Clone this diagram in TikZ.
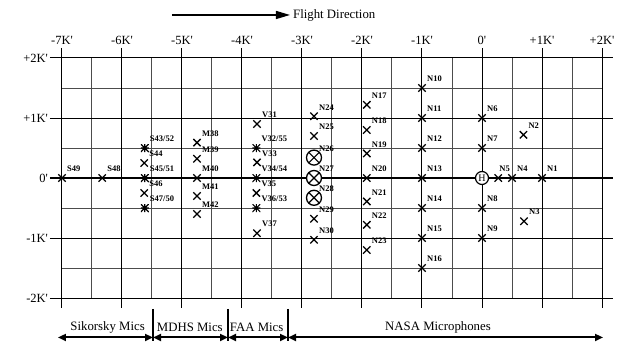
\documentclass[tikz,border=0pt]{standalone}
\usepackage{fontspec}
\setmainfont{Liberation Serif}
\usetikzlibrary{arrows.meta,shapes.misc}
\newcommand\kq{\textquotesingle}
\begin{document}
\begin{tikzpicture}[x=60pt,y=60pt,
  halfline/.style={draw=black!70, line width=1pt},
  fullline/.style={draw=black, line width=1pt},
  zeroline/.style={draw=black, line width=2pt},
  axl/.style={font=\fontsize{12.5}{14}\selectfont, inner sep=0pt},
  grp/.style={font=\fontsize{12.8}{14}\selectfont, inner sep=0pt},
  lbl/.style={font=\fontsize{8.5}{9}\selectfont\bfseries, inner sep=0pt, anchor=west},
  xm/.style={draw, cross out, minimum size=6pt, inner sep=0pt, line width=1.3pt},
  ast/.style={rectangle, minimum size=8pt, inner sep=0pt,
    path picture={\draw[line width=1.2pt]
      (path picture bounding box.north west)--(path picture bounding box.south east)
      (path picture bounding box.south west)--(path picture bounding box.north east)
      (path picture bounding box.north)--(path picture bounding box.south)
      (path picture bounding box.west)--(path picture bounding box.east);}},
  ox/.style={circle, draw, fill=white, minimum size=15pt, inner sep=0pt, line width=1.3pt,
    path picture={\draw[line width=1.2pt]
      (path picture bounding box.north west)--(path picture bounding box.south east)
      (path picture bounding box.south west)--(path picture bounding box.north east);}},
  hub/.style={circle, draw, fill=white, minimum size=13pt, inner sep=0pt, line width=1.2pt,
    font=\fontsize{10}{10}\selectfont},
  grparrow/.style={line width=2pt, {Triangle[length=8pt,width=7pt]}-{Triangle[length=8pt,width=7pt]}},
  sep/.style={line width=2pt}
]
\useasboundingbox (-8.0333,-2.7167) rectangle (2.4333,2.9667);

% grid: half-step lines
\foreach \x in {-6.5,-5.5,...,1.5} \draw[halfline] (\x,2) -- (\x,-2);
\foreach \y in {1.5,0.5,-0.5,-1.5} \draw[halfline] (-7,\y) -- (2,\y);
% grid: integer lines
\foreach \x in {-7,...,2} \draw[fullline] (\x,2.167) -- (\x,-2.167);
\foreach \y in {2,1,-1,-2} \draw[fullline] (-7.2,\y) -- (2.183,\y);
\draw[zeroline] (-7.2,0) -- (2.183,0);

% axis labels
\foreach \x/\t in {-7/-7K\kq,-6/-6K\kq,-5/-5K\kq,-4/-4K\kq,-3/-3K\kq,-2/-2K\kq,-1/-1K\kq,0/0\kq,1/+1K\kq,2/+2K\kq}
  \node[axl] (tx\x) at (\x,2.3) {\t};
\foreach \y/\t in {2/+2K\kq,1/+1K\kq,0/0\kq,-1/-1K\kq,-2/-2K\kq}
  \node[axl, anchor=east] (ty\y) at (-7.23,\y) {\t};

% flight direction
\coordinate (fa) at (-5.167,2.717);
\node[grp, anchor=west] (fd) at (-3.15,2.717) {Flight Direction};
\draw[line width=1.3pt, -{Triangle[length=14pt,width=8pt]}, shorten >=3pt] (fa) -- (fd.west);

% microphones
\newcommand\mic[4]{\node[#1] (#2) at (#3) {};
  \node[lbl] (l#2) at ([shift={(5pt,9pt)}]#2) {#4};}
\mic{xm}{S49}{-7,0}{S49}
\mic{xm}{S48}{-6.33,0}{S48}
\mic{ast}{S43}{-5.62,0.5}{S43/52}
\mic{xm}{S44}{-5.63,0.25}{S44}
\mic{ast}{S45}{-5.62,0}{S45/51}
\mic{xm}{S46}{-5.63,-0.25}{S46}
\mic{ast}{S47}{-5.62,-0.5}{S47/50}
\mic{xm}{M38}{-4.75,0.59}{M38}
\mic{xm}{M39}{-4.75,0.32}{M39}
\mic{xm}{M40}{-4.75,0}{M40}
\mic{xm}{M41}{-4.75,-0.3}{M41}
\mic{xm}{M42}{-4.75,-0.6}{M42}
\mic{xm}{V31}{-3.75,0.9}{V31}
\mic{ast}{V32}{-3.76,0.5}{V32/55}
\mic{xm}{V33}{-3.75,0.26}{V33}
\mic{ast}{V34}{-3.76,0}{V34/54}
\mic{xm}{V35}{-3.76,-0.25}{V35}
\mic{ast}{V36}{-3.76,-0.5}{V36/53}
\mic{xm}{V37}{-3.75,-0.92}{V37}
\mic{xm}{N24}{-2.8,1.03}{N24}
\mic{xm}{N25}{-2.8,0.7}{N25}
\mic{ox}{N26}{-2.8,0.34}{N26}
\mic{ox}{N27}{-2.8,0}{N27}
\mic{ox}{N28}{-2.8,-0.33}{N28}
\mic{xm}{N29}{-2.8,-0.68}{N29}
\mic{xm}{N30}{-2.8,-1.03}{N30}
\mic{xm}{N17}{-1.92,1.22}{N17}
\mic{xm}{N18}{-1.92,0.8}{N18}
\mic{xm}{N19}{-1.92,0.41}{N19}
\mic{xm}{N20}{-1.92,0}{N20}
\mic{xm}{N21}{-1.92,-0.39}{N21}
\mic{xm}{N22}{-1.92,-0.78}{N22}
\mic{xm}{N23}{-1.92,-1.2}{N23}
\mic{xm}{N10}{-1,1.5}{N10}
\mic{xm}{N11}{-1,1}{N11}
\mic{xm}{N12}{-1,0.5}{N12}
\mic{xm}{N13}{-1,0}{N13}
\mic{xm}{N14}{-1,-0.5}{N14}
\mic{xm}{N15}{-1,-1}{N15}
\mic{xm}{N16}{-1,-1.5}{N16}
\mic{xm}{N6}{0,1}{N6}
\mic{xm}{N7}{0,0.5}{N7}
\mic{xm}{N8}{0,-0.5}{N8}
\mic{xm}{N9}{0,-1}{N9}
\node[xm] (N5) at (0.27,0) {};
\node[lbl] (lN5) at ([shift={(1pt,9pt)}]N5) {N5};
\mic{xm}{N4}{0.5,0}{N4}
\mic{xm}{N1}{1,0}{N1}
\mic{xm}{N2}{0.69,0.72}{N2}
\mic{xm}{N3}{0.7,-0.72}{N3}
\node[hub] (H) at (0,0) {H};

% groups at bottom
\coordinate (b0) at (-7.067,-2.658);
\coordinate (b1) at (-5.483,-2.658);
\coordinate (b2) at (-4.233,-2.658);
\coordinate (b3) at (-3.233,-2.658);
\coordinate (b4) at (2.017,-2.658);
\foreach \s/\x in {1/-5.483,2/-4.233,3/-3.233}{
  \coordinate (s\s t) at (\x,-2.183);
  \coordinate (s\s b) at (\x,-2.7167);
  \draw[sep] (s\s t) -- (s\s b);
}
\draw[grparrow] (b0) -- (b1);
\draw[grparrow] (b1) -- (b2);
\draw[grparrow] (b2) -- (b3);
\draw[grparrow] (b3) -- (b4);
\node[grp] (gS) at (-6.24,-2.49) {Sikorsky Mics};
\node[grp] (gM) at (-4.87,-2.49) {MDHS Mics};
\node[grp] (gF) at (-3.755,-2.49) {FAA Mics};
\node[grp] (gN) at (-0.733,-2.49) {NASA Microphones};
\end{tikzpicture}
\end{document}
